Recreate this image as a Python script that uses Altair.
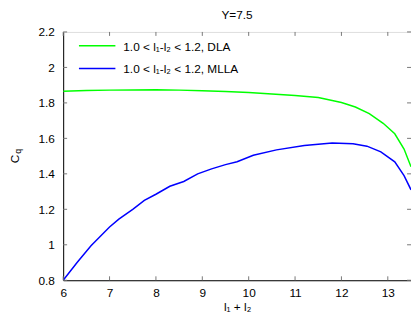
import altair as alt
import pandas as pd

# ---- data ----
dla_x = [6.0, 6.5, 7.0, 7.5, 8.0, 8.5, 9.0, 9.5, 10.0, 10.5, 11.0, 11.5, 12.0, 12.3, 12.6, 12.9, 13.15, 13.35, 13.5]
dla_y = [1.866, 1.870, 1.872, 1.873, 1.874, 1.872, 1.869, 1.864, 1.858, 1.850, 1.842, 1.830, 1.802, 1.777, 1.740, 1.685, 1.626, 1.540, 1.440]

mlla_x = [6.0, 6.3, 6.6, 7.0, 7.2, 7.5, 7.75, 8.0, 8.3, 8.6, 8.9, 9.2, 9.5, 9.75, 10.1, 10.6, 11.2, 11.8, 12.25, 12.55, 12.85, 13.15, 13.35, 13.5]
mlla_y = [0.80, 0.90, 0.995, 1.10, 1.145, 1.20, 1.25, 1.285, 1.33, 1.357, 1.40, 1.428, 1.452, 1.468, 1.505, 1.535, 1.56, 1.574, 1.57, 1.556, 1.524, 1.468, 1.39, 1.31]

series_names = ["1.0 < l\u2081-l\u2082 < 1.2, DLA", "1.0 < l\u2081-l\u2082 < 1.2, MLLA"]
series_colors = ["#00ff00", "#0000ff"]

x_ticks = [6, 7, 8, 9, 10, 11, 12, 13]
y_ticks = [0.8, 1.0, 1.2, 1.4, 1.6, 1.8, 2.0, 2.2]

title_text = "Y=7.5"
x_title = "l\u2081 + l\u2082"
y_title_main = "C"
y_title_sub = "q"

W, H = 353, 252
PL, PT, PR, PB = 56, 22, 0, 36
FONT = "Liberation Sans"

df = pd.concat([
    pd.DataFrame({"x": dla_x, "y": dla_y, "s": series_names[0]}),
    pd.DataFrame({"x": mlla_x, "y": mlla_y, "s": series_names[1]}),
])

xs = alt.Scale(domain=[6, 13.5], nice=False, zero=False)
ys = alt.Scale(domain=[0.8, 2.2], nice=False, zero=False)

x_axis = alt.Axis(
    values=x_ticks, ticks=False, grid=False, domainColor="black",
    labelOverlap=False, labelFlush=False,
    labelFont=FONT, labelFontSize=12, labelColor="black", labelPadding=8,
    title=x_title, titleFont=FONT, titleFontSize=12, titleFontWeight="normal",
    titleColor="black", titlePadding=3)
y_axis = alt.Axis(
    values=y_ticks, ticks=False, grid=False, domainColor="black", format=".1~f",
    labelOverlap=False, labelFlush=False,
    labelFont=FONT, labelFontSize=12, labelColor="black", labelPadding=9,
    title=None)

lines = alt.Chart(df).mark_line(strokeWidth=1.5, clip=True).encode(
    x=alt.X("x:Q", scale=xs, axis=x_axis),
    y=alt.Y("y:Q", scale=ys, axis=y_axis),
    color=alt.Color("s:N", scale=alt.Scale(domain=series_names, range=series_colors), legend=None),
)

xt = pd.DataFrame({"x": x_ticks})
yt = pd.DataFrame({"y": y_ticks})
TC = "#777777"
tick_layers = [
    alt.Chart(xt).mark_rule(color=TC).encode(x=alt.X("x:Q", scale=xs, axis=x_axis), y=alt.value(H), y2=alt.value(H - 4)),
    alt.Chart(xt).mark_rule(color=TC).encode(x=alt.X("x:Q", scale=xs, axis=x_axis), y=alt.value(0), y2=alt.value(4)),
    alt.Chart(yt).mark_rule(color=TC).encode(y=alt.Y("y:Q", scale=ys, axis=y_axis), x=alt.value(0), x2=alt.value(4)),
    alt.Chart(yt).mark_rule(color=TC).encode(y=alt.Y("y:Q", scale=ys, axis=y_axis), x=alt.value(W), x2=alt.value(W - 4)),
]

legend_layers = []
for i, (name, col) in enumerate(zip(series_names, series_colors)):
    ly = 14 + 23 * i
    d = pd.DataFrame({"name": [name]})
    legend_layers.append(
        alt.Chart(d).mark_rule(color=col, strokeWidth=1.5).encode(
            x=alt.value(16), x2=alt.value(53), y=alt.value(ly)))
    legend_layers.append(
        alt.Chart(d).mark_text(align="left", baseline="middle", font=FONT, fontSize=12, color="black").encode(
            x=alt.value(61), y=alt.value(ly + 1), text="name:N"))

ylab = pd.DataFrame({"a": [y_title_main], "b": [y_title_sub]})
ytitle = [
    alt.Chart(ylab).mark_text(angle=270, align="center", baseline="middle", font=FONT, fontSize=12, color="black").encode(
        x=alt.value(-PL + 7), y=alt.value(H / 2 + 3), text="a:N"),
    alt.Chart(ylab).mark_text(angle=270, align="center", baseline="middle", font=FONT, fontSize=9, color="black").encode(
        x=alt.value(-PL + 10), y=alt.value(H / 2 - 5), text="b:N"),
]

chart = alt.layer(lines, *tick_layers, *legend_layers, *ytitle).properties(
    width=W, height=H,
    title=alt.TitleParams(title_text, font=FONT, fontSize=12, fontWeight="normal", color="black",
                          anchor="middle", offset=4),
    autosize=alt.AutoSizeParams(type="none"),
    padding={"left": PL, "top": PT, "right": PR, "bottom": PB},
).configure_view(stroke="#888888", strokeWidth=1).configure(background="white")

chart.save("out.html", embed_options={"renderer": "svg", "actions": False})
